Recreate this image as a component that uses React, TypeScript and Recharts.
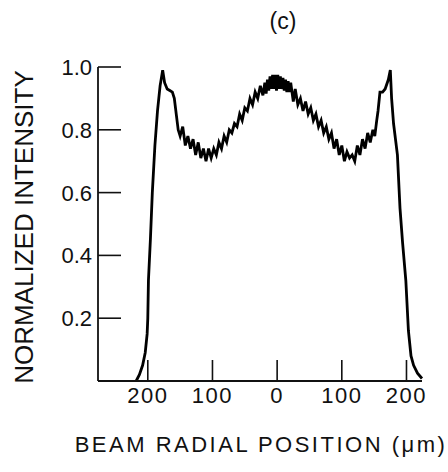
import { LineChart, Line, XAxis, YAxis } from 'recharts'

// beam radial position (um) and normalized intensity
const positions = [
  -218, -213, -208, -204, -201, -200, -199, -196, -193, -189, -185, -181, -177,
  -174, -170, -166, -162, -159, -156, -153, -150, -146, -142, -138, -134, -130,
  -126, -122, -118, -114, -110, -106, -102, -98, -94, -90, -86, -82, -78, -74,
  -70, -66, -62, -58, -54, -50, -46, -42, -38, -34, -30, -26, -22, -19, -17, -15,
  -13, -11, -9, -7, -5, -3, -1, 1, 3, 5, 7, 9, 11, 13, 15, 17, 19, 21, 25, 28, 32,
  36, 40, 44, 48, 52, 56, 60, 64, 68, 72, 76, 80, 84, 88, 92, 96, 100, 104, 108,
  112, 116, 120, 124, 128, 132, 136, 140, 144, 148, 151, 154, 156, 159, 163, 167,
  172, 175, 177, 180, 186, 190, 194, 199, 203, 207, 211, 217, 224,
]
const intensity = [
  0.0, 0.02, 0.05, 0.09, 0.15, 0.2, 0.32, 0.45, 0.6, 0.75, 0.86, 0.94, 0.99,
  0.95, 0.93, 0.925, 0.92, 0.9, 0.85, 0.8, 0.78, 0.81, 0.75, 0.78, 0.74, 0.77,
  0.72, 0.76, 0.71, 0.74, 0.7, 0.74, 0.71, 0.74, 0.72, 0.76, 0.74, 0.78, 0.76,
  0.8, 0.79, 0.82, 0.81, 0.85, 0.83, 0.87, 0.86, 0.9, 0.88, 0.92, 0.9, 0.94,
  0.91, 0.95, 0.915, 0.96, 0.925, 0.97, 0.93, 0.975, 0.93, 0.975, 0.925, 0.975,
  0.93, 0.97, 0.93, 0.965, 0.925, 0.96, 0.92, 0.955, 0.92, 0.95, 0.89, 0.93,
  0.88, 0.9, 0.86, 0.89, 0.85, 0.87, 0.83, 0.85, 0.81, 0.83, 0.79, 0.81, 0.77,
  0.79, 0.74, 0.77, 0.72, 0.75, 0.7, 0.73, 0.71, 0.72, 0.7, 0.75, 0.72, 0.77,
  0.74, 0.79, 0.76, 0.8, 0.78, 0.83, 0.86, 0.92, 0.92, 0.93, 0.96, 0.99, 0.9,
  0.82, 0.72, 0.55, 0.44, 0.32, 0.16, 0.08, 0.05, 0.025, 0.008, 0.0,
]
const xTicks = [-200, -100, 0, 100, 200]
const yTicks = [0.2, 0.4, 0.6, 0.8, 1.0]

const data = positions.map((x, i) => ({ x, y: intensity[i] }))

const font = '"Liberation Sans", Arial, sans-serif'

function YTick(props: any) {
  const { x, y, payload } = props
  return (
    <g>
      <text x={x} y={y} dy="0.36em" textAnchor="end" fontSize={22} fontFamily={font} fill="#111">
        {payload.value.toFixed(1)}
      </text>
      <line x1={x + 6} x2={x + 29} y1={y} y2={y} stroke="#111" strokeWidth={1.6} />
    </g>
  )
}

function XTick(props: any) {
  const { x, y, payload } = props
  return (
    <g>
      <line x1={x} x2={x} y1={y - 8} y2={y - 29} stroke="#111" strokeWidth={1.6} />
      <text x={x} y={y + 14} textAnchor="middle" fontSize={22} letterSpacing={1.5} fontFamily={font} fill="#111">
        {Math.abs(payload.value)}
      </text>
    </g>
  )
}

export default function App() {
  return (
    <div style={{ position: 'absolute', left: 0, top: 0, background: '#fff' }}>
      <LineChart width={448} height={472} data={data} margin={{ top: 67, right: 26, bottom: 0, left: 0 }}>
        <XAxis
          dataKey="x"
          type="number"
          domain={[-277, 224]}
          ticks={xTicks}
          height={91}
          tickSize={0}
          tickMargin={8}
          tick={<XTick />}
          axisLine={{ stroke: '#111', strokeWidth: 1.8 }}
          label={{
            content: () => (
              <g fontFamily={font} fill="#111">
                <text x={261} y={452} textAnchor="middle" fontSize={22} letterSpacing={2.5}>
                  BEAM RADIAL POSITION (μm)
                </text>
                <text x={283} y={29} textAnchor="middle" fontSize={23}>
                  (c)
                </text>
              </g>
            ),
          }}
        />
        <YAxis
          type="number"
          domain={[0, 1]}
          ticks={yTicks}
          width={98}
          tickSize={0}
          tickMargin={6}
          tick={<YTick />}
          axisLine={{ stroke: '#111', strokeWidth: 1.8 }}
          label={{
            content: () => (
              <text
                x={33}
                y={227}
                transform="rotate(-90, 33, 227)"
                textAnchor="middle"
                fontSize={26}
                fontFamily={font}
                fill="#111"
              >
                NORMALIZED INTENSITY
              </text>
            ),
          }}
        />
        <Line
          type="linear"
          dataKey="y"
          stroke="#000"
          strokeWidth={2.8}
          dot={false}
          isAnimationActive={false}
        />
      </LineChart>
    </div>
  )
}
